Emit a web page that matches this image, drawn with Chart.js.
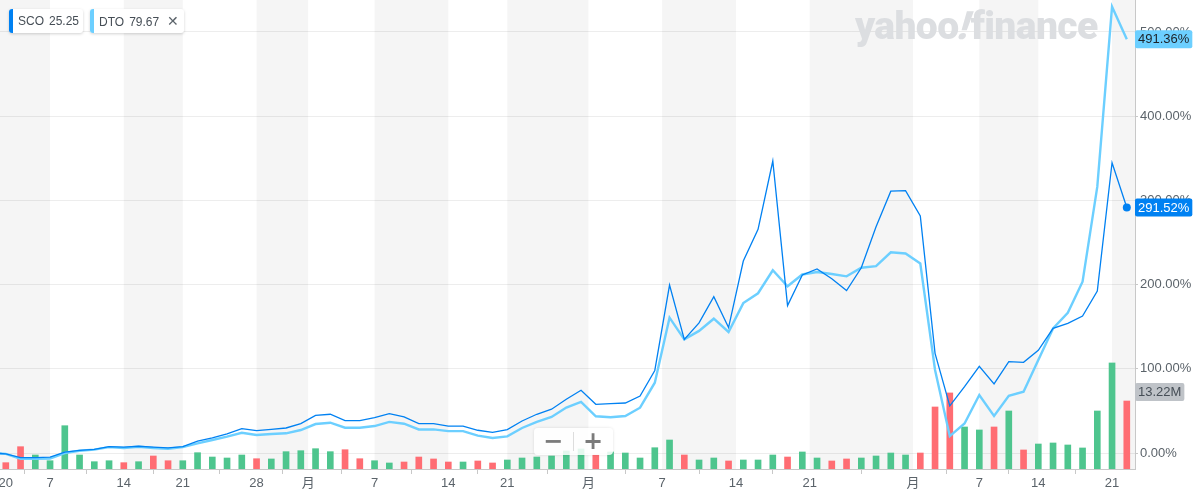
<!DOCTYPE html>
<html><head><meta charset="utf-8">
<script src="https://cdn.jsdelivr.net/npm/chart.js@4.4.1/dist/chart.umd.min.js"></script>
<style>
html,body{margin:0;padding:0;background:#fff;}
#wrap{position:relative;width:1198px;height:495px;overflow:hidden;font-family:"Liberation Sans",Arial,"Noto Sans CJK SC",sans-serif;}
#c{position:absolute;left:0;top:0;}
.chip{position:absolute;top:9px;height:24px;background:#fff;border-radius:3px;box-shadow:0 1px 3px rgba(0,0,0,0.18);font-size:12px;color:#464e56;line-height:24px;white-space:nowrap;padding-left:9px;box-sizing:border-box;}
.chip .stripe{position:absolute;left:0;top:0;bottom:0;width:4px;border-radius:3px 0 0 3px;}
.chip .px{margin-left:5px;}
.chip .x{margin-left:8px;font-size:14px;color:#5b636a;}
#wm{position:absolute;left:855px;top:3px;font-family:Roboto,"Liberation Sans",sans-serif;font-weight:900;font-size:39px;letter-spacing:-0.6px;color:#dcdee1;white-space:nowrap;}
#wm .ex{display:inline-block;transform:skewX(-18deg);margin:0 1px;}
#zoomctl{position:absolute;left:534px;top:428px;width:79px;height:27px;background:rgba(255,255,255,0.85);border-radius:4px;box-shadow:0 0 3px rgba(0,0,0,0.12);}
#zoomctl span{position:absolute;top:0;height:27px;line-height:26px;font-weight:bold;font-size:24px;color:#7b7b7b;text-align:center;width:30px;font-family:"DejaVu Sans",sans-serif;}
#zoomctl .sep{left:39px;top:4px;width:1px;height:19px;background:#ddd;}
</style>
</head><body>
<div id="wrap">
<canvas id="c" width="1198" height="495"></canvas>
<div id="wm">yahoo<span class="ex">!</span>finance</div>
<div id="legend"></div>
<div id="zoomctl"><span style="left:4px">−</span><span class="sep"></span><span style="left:44px">+</span></div>
</div>
<script>
// ---- data ----
const dates = ['2019-12-31',
 '2020-01-02','2020-01-03','2020-01-06','2020-01-07','2020-01-08','2020-01-09','2020-01-10','2020-01-13','2020-01-14','2020-01-15','2020-01-16','2020-01-17','2020-01-21','2020-01-22','2020-01-23','2020-01-24','2020-01-27','2020-01-28','2020-01-29','2020-01-30','2020-01-31',
 '2020-02-03','2020-02-04','2020-02-05','2020-02-06','2020-02-07','2020-02-10','2020-02-11','2020-02-12','2020-02-13','2020-02-14','2020-02-18','2020-02-19','2020-02-20','2020-02-21','2020-02-24','2020-02-25','2020-02-26','2020-02-27','2020-02-28',
 '2020-03-02','2020-03-03','2020-03-04','2020-03-05','2020-03-06','2020-03-09','2020-03-10','2020-03-11','2020-03-12','2020-03-13','2020-03-16','2020-03-17','2020-03-18','2020-03-19','2020-03-20','2020-03-23','2020-03-24','2020-03-25','2020-03-26','2020-03-27','2020-03-30','2020-03-31',
 '2020-04-01','2020-04-02','2020-04-03','2020-04-06','2020-04-07','2020-04-08','2020-04-09','2020-04-13','2020-04-14','2020-04-15','2020-04-16','2020-04-17','2020-04-20','2020-04-21','2020-04-22'];

const scoPct = [0,
 -1,-5.5,-5.5,-5,1,3,4.4,7.5,7,8,
 7,6,7.5,14,18,22.6,29,26.5,28,29.7,
 35,44.7,46,38.4,38.4,42,46.7,43,35,35,
 32,32,27,24.6,27.7,38,46,52,63.8,74.5,
 57.8,58.6,59.4,67.7,98,199.5,135,154.5,185.6,149,
 228,265.7,346.8,175,211.4,218.5,207,193,220,268.8,
 311,311.5,281.5,118.4,56,78.8,103,82,108.5,107.7,
 122,148,154,162.7,192.4,344.8,291.52];

const dtoPct = [0,
 -1,-7,-7,-6.5,0,2.6,4,7,6,7.5,
 6,5,7,11.5,15.4,19.4,24,21.4,22.6,23.4,
 27.3,34.4,36,30,30,32,37,34.8,28,28,
 26,26,20.6,17.8,19.8,29.7,37,42.8,54,60.6,
 43.6,42.4,44,53.8,83.5,160.7,135,145,159.5,143.7,
 178,189.7,217,198,212,215,212.6,209.8,220,222,
 238.3,237,225,98.6,20,35,68.9,44,68,72.8,
 110.5,148,166.6,203.5,316.3,530,491.36];

const volumeM = [null,
 1.23,4.34,2.72,1.61,8.42,2.72,1.42,1.61,1.23,1.42,
 2.53,1.61,1.61,3.17,2.33,2.14,2.72,2.0,1.95,3.37,
 3.56,3.95,3.37,3.75,2.0,1.61,1.17,1.36,2.33,1.95,
 1.36,1.36,1.56,1.17,1.75,2.14,2.33,2.53,3.5,3.89,
 2.72,3.31,3.11,2.14,4.14,5.64,2.72,1.75,2.14,1.56,
 1.75,1.75,2.72,2.33,3.31,2.14,1.56,1.95,2.14,2.53,
 3.11,2.72,3.11,12.06,14.79,8.17,7.59,8.17,11.28,3.70,
 4.86,5.06,4.67,4.09,11.28,20.62,13.22];

const volumeDir = [null,
 'd','d','u','u','u','u','u','u','d','u',
 'd','d','u','u','u','u','u','d','u','u',
 'u','u','u','d','d','u','u','d','d','d',
 'd','u','d','d','u','u','u','u','u','u',
 'd','u','u','u','u','u','d','u','u','d',
 'u','u','u','d','u','u','d','d','u','u',
 'u','u','d','d','d','u','u','d','u','d',
 'u','u','u','u','u','u','d'];

const tickDates = ['2020-01-01','2020-01-07','2020-01-14','2020-01-21','2020-01-28','2020-02-01','2020-02-07','2020-02-14','2020-02-21','2020-03-01','2020-03-07','2020-03-14','2020-03-21','2020-04-01','2020-04-07','2020-04-14','2020-04-21'];
const tickLabels = ['2020','7','14','21','28','月','7','14','21','月','7','14','21','月','7','14','21'];
const yTickValues = [0,100,200,300,400,500];
const seriesNames = ['SCO','DTO'];
const lastPrices = ['25.25','79.67'];
const lastVolumeLabel = '13.22M';

// ---- styles ----
const FONT = '"Liberation Sans", Arial, "Noto Sans CJK SC", sans-serif';
const C_SCO = '#0081f2', C_DTO = '#6ccfff';
const C_UP = '#4ec58e', C_DOWN = '#ff6d73';
const TXT = '#5b636a';

// legend (HTML)
const legendColors = [C_SCO, C_DTO];
const legendLeft = [9, 90], legendWidth = [74, 94];
const lg = document.getElementById('legend');
seriesNames.forEach((n, k) => {
  const d = document.createElement('div');
  d.className = 'chip';
  d.style.left = legendLeft[k] + 'px';
  d.style.width = legendWidth[k] + 'px';
  d.innerHTML = '<span class="stripe" style="background:' + legendColors[k] + '"></span>' + n +
    '<span class="px">' + lastPrices[k] + '</span>' + (k === 1 ? '<span class="x">✕</span>' : '');
  lg.appendChild(d);
});

function tickPos(d) {
  let j = dates.findIndex(t => t >= d);
  if (j < 0) j = dates.length;
  const isMonth = d.slice(8) === '01';
  if (dates[j] === d && !isMonth) return j;
  return j - 0.5;
}

const bandsPlugin = {
  id: 'bands',
  beforeDraw(chart) {
    const {ctx, chartArea: a, scales: {x}} = chart;
    ctx.save();
    ctx.fillStyle = '#fff';
    ctx.fillRect(0, 0, chart.width, chart.height);
    const edges = [a.left];
    tickDates.forEach(d => {
      const px = x.getPixelForValue(tickPos(d));
      if (px > a.left && px < a.right) edges.push(px);
    });
    edges.push(a.right);
    ctx.fillStyle = '#f5f5f5';
    for (let k = 0; k < edges.length - 1; k += 2) {
      ctx.fillRect(edges[k], a.top, edges[k + 1] - edges[k], a.bottom - a.top);
    }
    ctx.restore();
  }
};

function badge(ctx, x, yc, text, bg, fg) {
  ctx.font = '13px ' + FONT;
  const w = ctx.measureText(text).width + 6;
  const h = 18;
  ctx.fillStyle = bg;
  ctx.beginPath();
  ctx.roundRect(x, yc - h / 2, w, h, 2);
  ctx.fill();
  ctx.fillStyle = fg;
  ctx.textBaseline = 'middle';
  ctx.textAlign = 'left';
  ctx.fillText(text, x + 3, yc + 0.5);
}

const badgePlugin = {
  id: 'badges',
  afterDraw(chart) {
    const {ctx, chartArea: a, scales: {y, yv}} = chart;
    const last = dates.length - 1;
    ctx.save();
    badge(ctx, a.right, y.getPixelForValue(dtoPct[last]), dtoPct[last].toFixed(2) + '%', C_DTO, '#1d2228');
    badge(ctx, a.right, y.getPixelForValue(scoPct[last]), scoPct[last].toFixed(2) + '%', C_SCO, '#fff');
    badge(ctx, a.right, yv.getPixelForValue(volumeM[last]) - 9, lastVolumeLabel, '#bfc3c8', '#464e56');
    ctx.restore();
  }
};

const last = dates.length - 1;
new Chart(document.getElementById('c'), {
  type: 'line',
  data: {
    datasets: [
      {
        label: seriesNames[0], data: dates.map((d, i) => ({x: i, y: scoPct[i]})),
        borderColor: C_SCO, borderWidth: 1.3, tension: 0, order: 1, yAxisID: 'y',
        pointRadius: c => c.dataIndex === last ? 4 : 0, pointBackgroundColor: C_SCO, pointBorderWidth: 0,
        fill: false
      },
      {
        label: seriesNames[1], data: dates.map((d, i) => ({x: i, y: dtoPct[i]})),
        borderColor: C_DTO, borderWidth: 2.4, tension: 0, order: 2, yAxisID: 'y',
        pointRadius: 0, fill: false
      },
      {
        type: 'bar', label: 'Volume', data: dates.map((d, i) => ({x: i, y: volumeM[i]})),
        yAxisID: 'yv', order: 3, barThickness: 6,
        backgroundColor: c => volumeDir[c.dataIndex] === 'u' ? C_UP : C_DOWN
      }
    ]
  },
  options: {
    responsive: false, animation: false, devicePixelRatio: 1,
    layout: {padding: 0, autoPadding: false},
    plugins: {legend: {display: false}, tooltip: {enabled: false}},
    scales: {
      x: {
        type: 'linear', min: 0.6068, max: 77.556, offset: false,
        afterBuildTicks: s => { s.ticks = tickDates.map(d => ({value: tickPos(d)})); },
        afterFit: s => { s.height = 26; s.paddingLeft = 0; s.paddingRight = 0; },
        ticks: {autoSkip: false, maxRotation: 0, minRotation: 0, padding: 2, color: TXT,
          font: {size: 13, family: FONT}, callback: (v, i) => tickLabels[i]},
        grid: {drawOnChartArea: false, drawTicks: true, tickLength: 5, color: '#c8c8c8'},
        border: {display: true, color: '#c8c8c8'}
      },
      y: {
        position: 'right', min: -19, max: 538,
        afterBuildTicks: s => { s.ticks = yTickValues.map(v => ({value: v})); },
        afterFit: s => { s.width = 63; s.paddingTop = 0; s.paddingBottom = 0; },
        ticks: {padding: 2, color: TXT, font: {size: 13, family: FONT}, callback: v => v.toFixed(2) + '%'},
        grid: {color: 'rgba(0,0,0,0.07)', tickColor: '#c8c8c8', tickLength: 3, drawTicks: true},
        border: {display: true, color: '#c8c8c8'}
      },
      yv: {display: false, min: 0, max: 91.2}
    }
  },
  plugins: [bandsPlugin, badgePlugin]
});
</script>
</body></html>
